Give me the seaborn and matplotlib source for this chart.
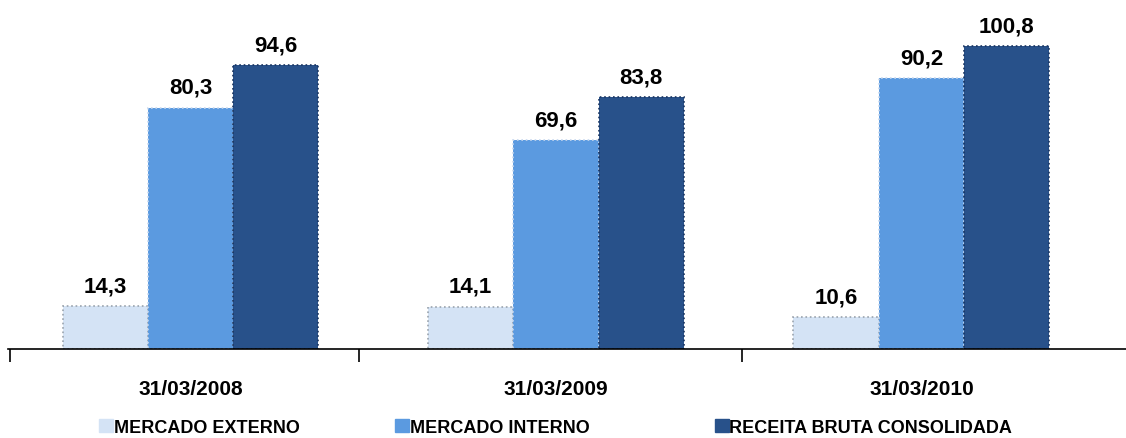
import pandas as pd
import matplotlib.pyplot as plt
import seaborn as sns
from matplotlib.patches import Patch

# data
datas = ['31/03/2008', '31/03/2009', '31/03/2010']
series = ['MERCADO EXTERNO', 'MERCADO INTERNO', 'RECEITA BRUTA CONSOLIDADA']
externo = [14.3, 14.1, 10.6]
interno = [80.3, 69.6, 90.2]
receita = [94.6, 83.8, 100.8]

cores = ['#d4e3f5', '#5b9ae0', '#28518a']
bordas = ['#9aa3ad', '#c8d8ee', '#1a3560']

df = pd.DataFrame({
    'data': datas * 3,
    'serie': [series[0]] * 3 + [series[1]] * 3 + [series[2]] * 3,
    'valor': externo + interno + receita,
})

sns.set_style('white')
plt.rcParams['font.family'] = ['Liberation Sans', 'DejaVu Sans']
plt.rcParams['text.color'] = 'black'
plt.rcParams['xtick.color'] = 'black'

fig = plt.figure(figsize=(11.26, 4.39), dpi=100)
ax = fig.add_axes([0.007, 0.203, 0.993, 0.797])

sns.barplot(data=df, x='data', y='valor', hue='serie', hue_order=series,
            palette=cores, saturation=1, width=0.7, gap=0, ax=ax, legend=False,
            errorbar=None)

for cont, borda in zip(ax.containers, bordas):
    for bar in cont:
        bar.set_edgecolor(borda)
        bar.set_linewidth(1.2)
        bar.set_linestyle(':')
    ax.bar_label(cont, labels=[f'{b.get_height():.1f}'.replace('.', ',') for b in cont],
                 padding=7, fontsize=16, fontweight='bold', color='black')

ax.set_ylim(0, 116.5)
ax.set_xlim(-0.5, 2.56)
ax.set_xlabel('')
ax.set_ylabel('')
ax.set_yticks([])
for s in ['top', 'right', 'left']:
    ax.spines[s].set_visible(False)
ax.spines['bottom'].set_color('black')
ax.spines['bottom'].set_linewidth(1.2)

ax.set_xticks([0, 1, 2])
ax.set_xticklabels(datas, fontsize=15, fontweight='bold', color='black')
ax.tick_params(axis='x', which='major', bottom=False, length=0, pad=22)
ax.set_xticks([-0.495, 0.46, 1.51], minor=True)
ax.tick_params(axis='x', which='minor', bottom=True, length=9, width=1.2,
               color='black', direction='out')

# one legend per entry so each sits where it does in the reference
for x0, nome, cor in zip([0.088, 0.351, 0.635], series, cores):
    fig.legend([Patch(facecolor=cor, edgecolor=cor)], [nome], loc='center left',
               bbox_to_anchor=(x0, 0.025), frameon=False, borderpad=0, borderaxespad=0,
               handlelength=0.75, handleheight=0.75, handletextpad=0.05,
               prop={'size': 13, 'weight': 'bold'})

fig.savefig('out.png', dpi=100)
